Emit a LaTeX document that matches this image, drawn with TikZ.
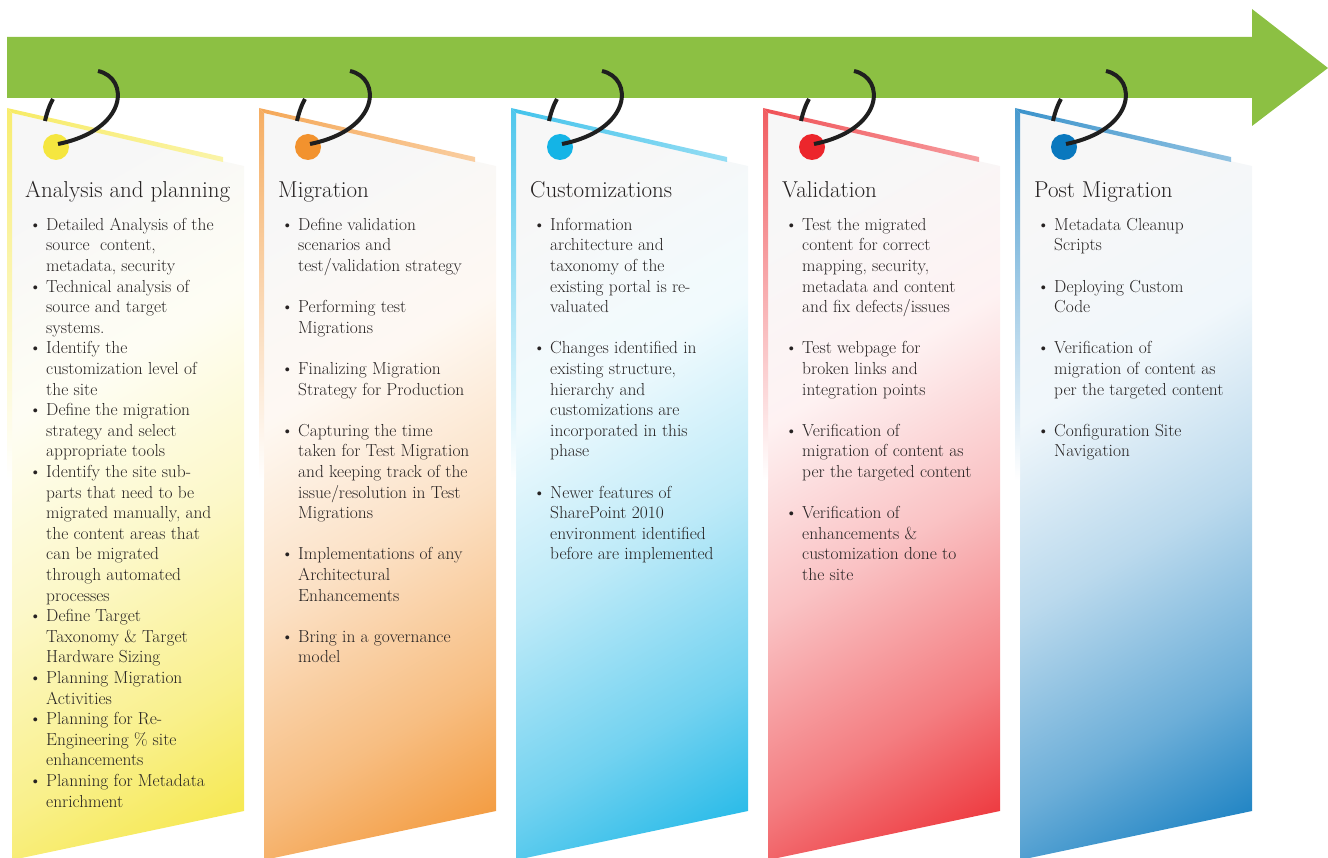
\documentclass[tikz,border=0pt]{standalone}
\usepackage{tikz}
\usetikzlibrary{positioning}
\definecolor{arrowgreen}{HTML}{8CC043}
\definecolor{tagyellow}{HTML}{F5E63F}
\definecolor{tagorange}{HTML}{F2922E}
\definecolor{tagcyan}{HTML}{14B4E6}
\definecolor{tagred}{HTML}{EC262C}
\definecolor{tagblue}{HTML}{0A78BE}
\definecolor{txt}{HTML}{262222}
\colorlet{tagcol}{tagyellow}
\pgfdeclareverticalshading[tagcol]{tagshade}{100bp}{color(0bp)=(tagcol); color(16bp)=(tagcol); color(30bp)=(tagcol!60!white); color(45bp)=(tagcol!28!white); color(60bp)=(tagcol!6!white); color(75bp)=(white!97!black); color(100bp)=(white!97!black)}
\def\bul{\textbullet}
% #1 left edge, #2 colour, #3 number
\def\drawtag#1#2#3{%
  \colorlet{tagcol}{#2}%
  \shade[shading=tagshade,shading angle=30] (#1+5,113) -- (#1+237,166) -- (#1+237,811) -- (#1+5,860) -- cycle;
  \shade[top color=#2!75!white, bottom color=white] (#1,108) -- (#1+5,113) -- (#1+5,480) -- (#1,480) -- cycle;
  \shade[left color=#2!80!white, right color=#2!45!white] (#1,108) -- (#1+216,157) -- (#1+216,162) -- (#1+5,113) -- cycle;
  \node[dot, fill=#2] (dot#3) at (#1+49,147) {};
}
\def\drawring#1{%
  \draw[ring] (#1+38,121) .. controls (#1+40,112) and (#1+43,104) .. (#1+46,99);
  \draw[ring] (#1+91,71) .. controls (#1+123,78) and (#1+121,130) .. (#1+51,144);
}

\begin{document}
\begin{tikzpicture}[x=1pt,y=-1pt,
  ring/.style={line width=4pt, draw=black!88},
  dot/.style={circle, minimum size=26pt, inner sep=0pt},
  title/.style={anchor=base west, text=txt, inner sep=0pt, font=\fontsize{23}{27}\selectfont},
  items/.style={anchor=north west, text=txt, inner sep=0pt, align=left, font=\fontsize{17.4}{20.6}\selectfont}]
\useasboundingbox (0,0) rectangle (1328,858);

% the five tags
\drawtag{7}{tagyellow}{1}
\drawtag{259}{tagorange}{2}
\drawtag{511}{tagcyan}{3}
\drawtag{763}{tagred}{4}
\drawtag{1015}{tagblue}{5}

% timeline arrow
\fill[arrowgreen] (7,37) -- (1252,37) -- (1252,9) -- (1328,68) -- (1252,126) -- (1252,98) -- (7,98) -- cycle;

% rings through the arrow
\drawring{7}
\drawring{259}
\drawring{511}
\drawring{763}
\drawring{1015}

% texts
\node[title] (title1) at (25,198) {Analysis and planning};
\node[items] (list1) at (29,215.6) {\begin{tabular}{@{}p{17pt}@{}l@{}}
\bul & Detailed Analysis of the\\
     & source~ content,\\
     & metadata, security\\
\bul & Technical analysis of\\
     & source and target\\
     & systems.\\
\bul & Identify the\\
     & customization level of\\
     & the site\\
\bul & Define the migration\\
     & strategy and select\\
     & appropriate tools\\
\bul & Identify the site sub-\\
     & parts that need to be\\
     & migrated manually, and\\
     & the content areas that\\
     & can be migrated\\
     & through automated\\
     & processes\\
\bul & Define Target\\
     & Taxonomy \& Target\\
     & Hardware Sizing\\
\bul & Planning Migration\\
     & Activities\\
\bul & Planning for Re-\\
     & Engineering \% site\\
     & enhancements\\
\bul & Planning for Metadata\\
     & enrichment
\end{tabular}};

\node[title] (title2) at (278,198) {Migration};
\node[items] (list2) at (281,215.6) {\begin{tabular}{@{}p{17pt}@{}l@{}}
\bul & Define validation\\
     & scenarios and\\
     & test/validation strategy\\
     & \\
\bul & Performing test\\
     & Migrations\\
     & \\
\bul & Finalizing Migration\\
     & Strategy for Production\\
     & \\
\bul & Capturing the time\\
     & taken for Test Migration\\
     & and keeping track of the\\
     & issue/resolution in Test\\
     & Migrations\\
     & \\
\bul & Implementations of any\\
     & Architectural\\
     & Enhancements\\
     & \\
\bul & Bring in a governance\\
     & model
\end{tabular}};

\node[title] (title3) at (530,198) {Customizations};
\node[items] (list3) at (533,215.6) {\begin{tabular}{@{}p{17pt}@{}l@{}}
\bul & Information\\
     & architecture and\\
     & taxonomy of the\\
     & existing portal is re-\\
     & valuated\\
     & \\
\bul & Changes identified in\\
     & existing structure,\\
     & hierarchy and\\
     & customizations are\\
     & incorporated in this\\
     & phase\\
     & \\
\bul & Newer features of\\
     & SharePoint 2010\\
     & environment identified\\
     & before are implemented
\end{tabular}};

\node[title] (title4) at (782,198) {Validation};
\node[items] (list4) at (785,215.6) {\begin{tabular}{@{}p{17pt}@{}l@{}}
\bul & Test the migrated\\
     & content for correct\\
     & mapping, security,\\
     & metadata and content\\
     & and fix defects/issues\\
     & \\
\bul & Test webpage for\\
     & broken links and\\
     & integration points\\
     & \\
\bul & Verification of\\
     & migration of content as\\
     & per the targeted content\\
     & \\
\bul & Verification of\\
     & enhancements \&\\
     & customization done to\\
     & the site
\end{tabular}};

\node[title] (title5) at (1034,198) {Post Migration};
\node[items] (list5) at (1037,215.6) {\begin{tabular}{@{}p{17pt}@{}l@{}}
\bul & Metadata Cleanup\\
     & Scripts\\
     & \\
\bul & Deploying Custom\\
     & Code\\
     & \\
\bul & Verification of\\
     & migration of content as\\
     & per the targeted content\\
     & \\
\bul & Configuration Site\\
     & Navigation
\end{tabular}};
\end{tikzpicture}
\end{document}
